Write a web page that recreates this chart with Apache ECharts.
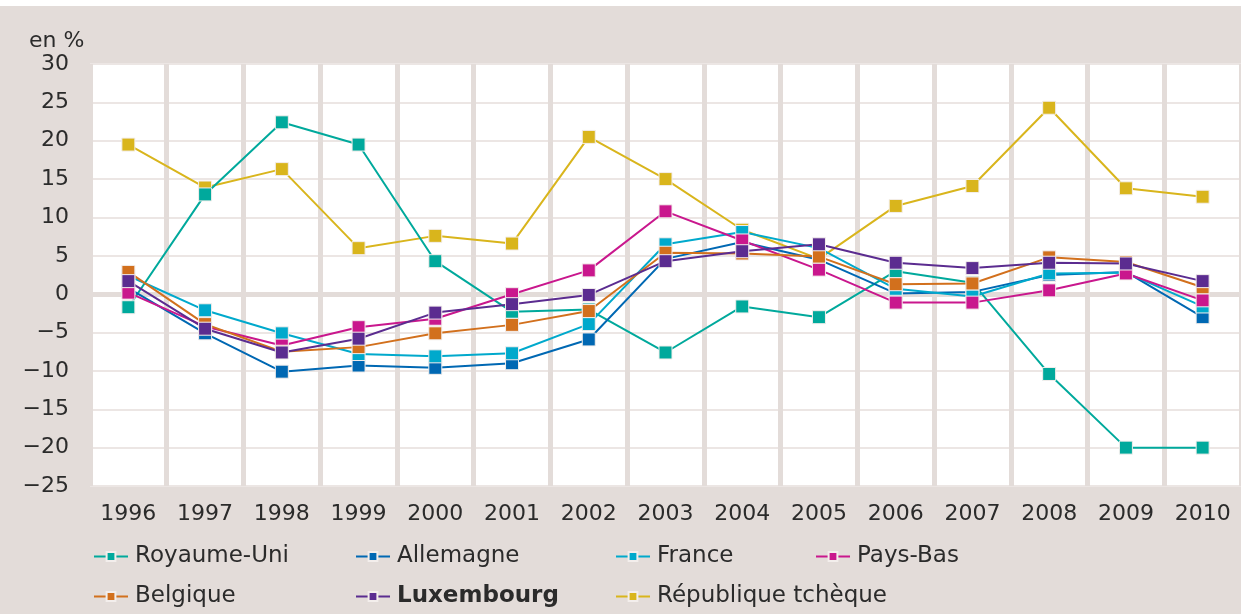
<!DOCTYPE html>
<html>
<head>
<meta charset="utf-8">
<script src="https://cdn.jsdelivr.net/npm/echarts@6/dist/echarts.min.js"></script>
<style>
html,body{margin:0;padding:0;background:#ffffff;}
#chart{width:1241px;height:614px;}
</style>
</head>
<body>
<div id="chart"></div>
<script>
const years = ['1996','1997','1998','1999','2000','2001','2002','2003','2004','2005','2006','2007','2008','2009','2010'];
const yTicks = [-25,-20,-15,-10,-5,0,5,10,15,20,25,30];

const royaumeUni = [-1.7, 13.0, 22.4, 19.5, 4.3, -2.3, -2.0, -7.6, -1.6, -3.0, 3.0, 1.5, -10.4, -20.0, -20.0];
const allemagne  = [0.8, -5.1, -10.1, -9.3, -9.6, -9.0, -5.9, 4.6, 6.8, 4.5, 0.1, 0.3, 2.5, 2.9, -3.0];
const france     = [2.4, -2.1, -5.1, -7.8, -8.1, -7.7, -3.9, 6.5, 8.1, 6.0, 0.7, -0.3, 2.7, 2.8, -1.6];
const paysBas    = [0.2, -4.2, -6.7, -4.3, -3.2, 0.0, 3.1, 10.8, 7.0, 3.2, -1.1, -1.1, 0.5, 2.7, -0.8];
const belgique   = [2.9, -3.9, -7.5, -6.9, -5.1, -4.0, -2.2, 5.4, 5.3, 4.9, 1.3, 1.4, 4.8, 4.2, 0.9];
const luxembourg = [1.7, -4.5, -7.6, -5.8, -2.4, -1.3, -0.1, 4.3, 5.6, 6.5, 4.1, 3.4, 4.1, 4.0, 1.7];
const tcheque    = [19.5, 13.9, 16.3, 6.0, 7.6, 6.6, 20.5, 15.0, 8.4, 4.6, 11.5, 14.1, 24.3, 13.8, 12.7];

const FONT = 'DejaVu Sans';
const TXT = '#2b2b2b';

const seriesDefs = [
  {name:'République tchèque', data:tcheque, color:'#d9b51c', z:2},
  {name:'Royaume-Uni', data:royaumeUni, color:'#00a99c', z:3},
  {name:'Allemagne', data:allemagne, color:'#0068b3', z:4},
  {name:'France', data:france, color:'#00a9cc', z:5},
  {name:'Pays-Bas', data:paysBas, color:'#c9178d', z:6},
  {name:'Belgique', data:belgique, color:'#d2701d', z:7},
  {name:'Luxembourg', data:luxembourg, color:'#5b2c90', z:8}
];

const series = seriesDefs.map(function(s){
  return {
    name: s.name, type:'line', data: s.data, z: s.z,
    symbol:'rect', symbolSize:13,
    itemStyle:{color:s.color, borderColor:'#f3eeec', borderWidth:1},
    lineStyle:{color:s.color, width:2},
    emphasis:{disabled:true},
    animation:false
  };
});
series[0].markLine = {
  silent:true, symbol:'none', z:1,
  label:{show:false},
  lineStyle:{color:'#e3dcd9', width:5, type:'solid'},
  data:[{yAxis:0}]
};

const legendPos = [
  {name:'Royaume-Uni', left:93, top:545},
  {name:'Allemagne', left:355, top:545},
  {name:'France', left:615, top:545},
  {name:'Pays-Bas', left:815, top:545},
  {name:'Belgique', left:93, top:585},
  {name:'Luxembourg', left:355, top:585, bold:true},
  {name:'République tchèque', left:615, top:585}
];
const legends = legendPos.map(function(l){
  return {
    data:[l.name], left:l.left, top:l.top, orient:'horizontal',
    itemWidth:34, itemHeight:11, itemGap:0, padding:0, selectedMode:false,
    textStyle:{fontFamily:FONT, fontSize:23, color:TXT, fontWeight: l.bold ? 'bold' : 'normal', padding:[0,0,0,2]}
  };
});

const chart = echarts.init(document.getElementById('chart'), null, {renderer:'canvas'});
chart.setOption({
  backgroundColor:'#e3dcd9',
  animation:false,
  title:{text:'en %', left:24, top:25, textStyle:{fontFamily:FONT, fontSize:22, fontWeight:'normal', color:TXT}},
  graphic:[{type:'rect', shape:{x:0,y:0,width:1241,height:6}, style:{fill:'#ffffff'}, silent:true}],
  grid:{left:90, top:64, width:1153, height:422, show:true, backgroundColor:'#ffffff', borderWidth:0, containLabel:false},
  legend: legends,
  xAxis:{
    type:'category', data:years, boundaryGap:true,
    axisLine:{show:false}, axisTick:{show:false},
    axisLabel:{fontFamily:FONT, fontSize:22, color:TXT, margin:17},
    splitLine:{show:true, interval:0, lineStyle:{color:'#e3dcd9', width:5}}
  },
  yAxis:{
    type:'value', min:yTicks[0], max:yTicks[yTicks.length-1], interval:5,
    axisLine:{show:false}, axisTick:{show:false},
    axisLabel:{fontFamily:FONT, fontSize:22, color:TXT, margin:21,
      formatter:function(v){ return String(v).replace('-', '\u2212'); }},
    splitLine:{show:true, lineStyle:{color:'#ece6e4', width:2}}
  },
  series: series
});
</script>
</body>
</html>
